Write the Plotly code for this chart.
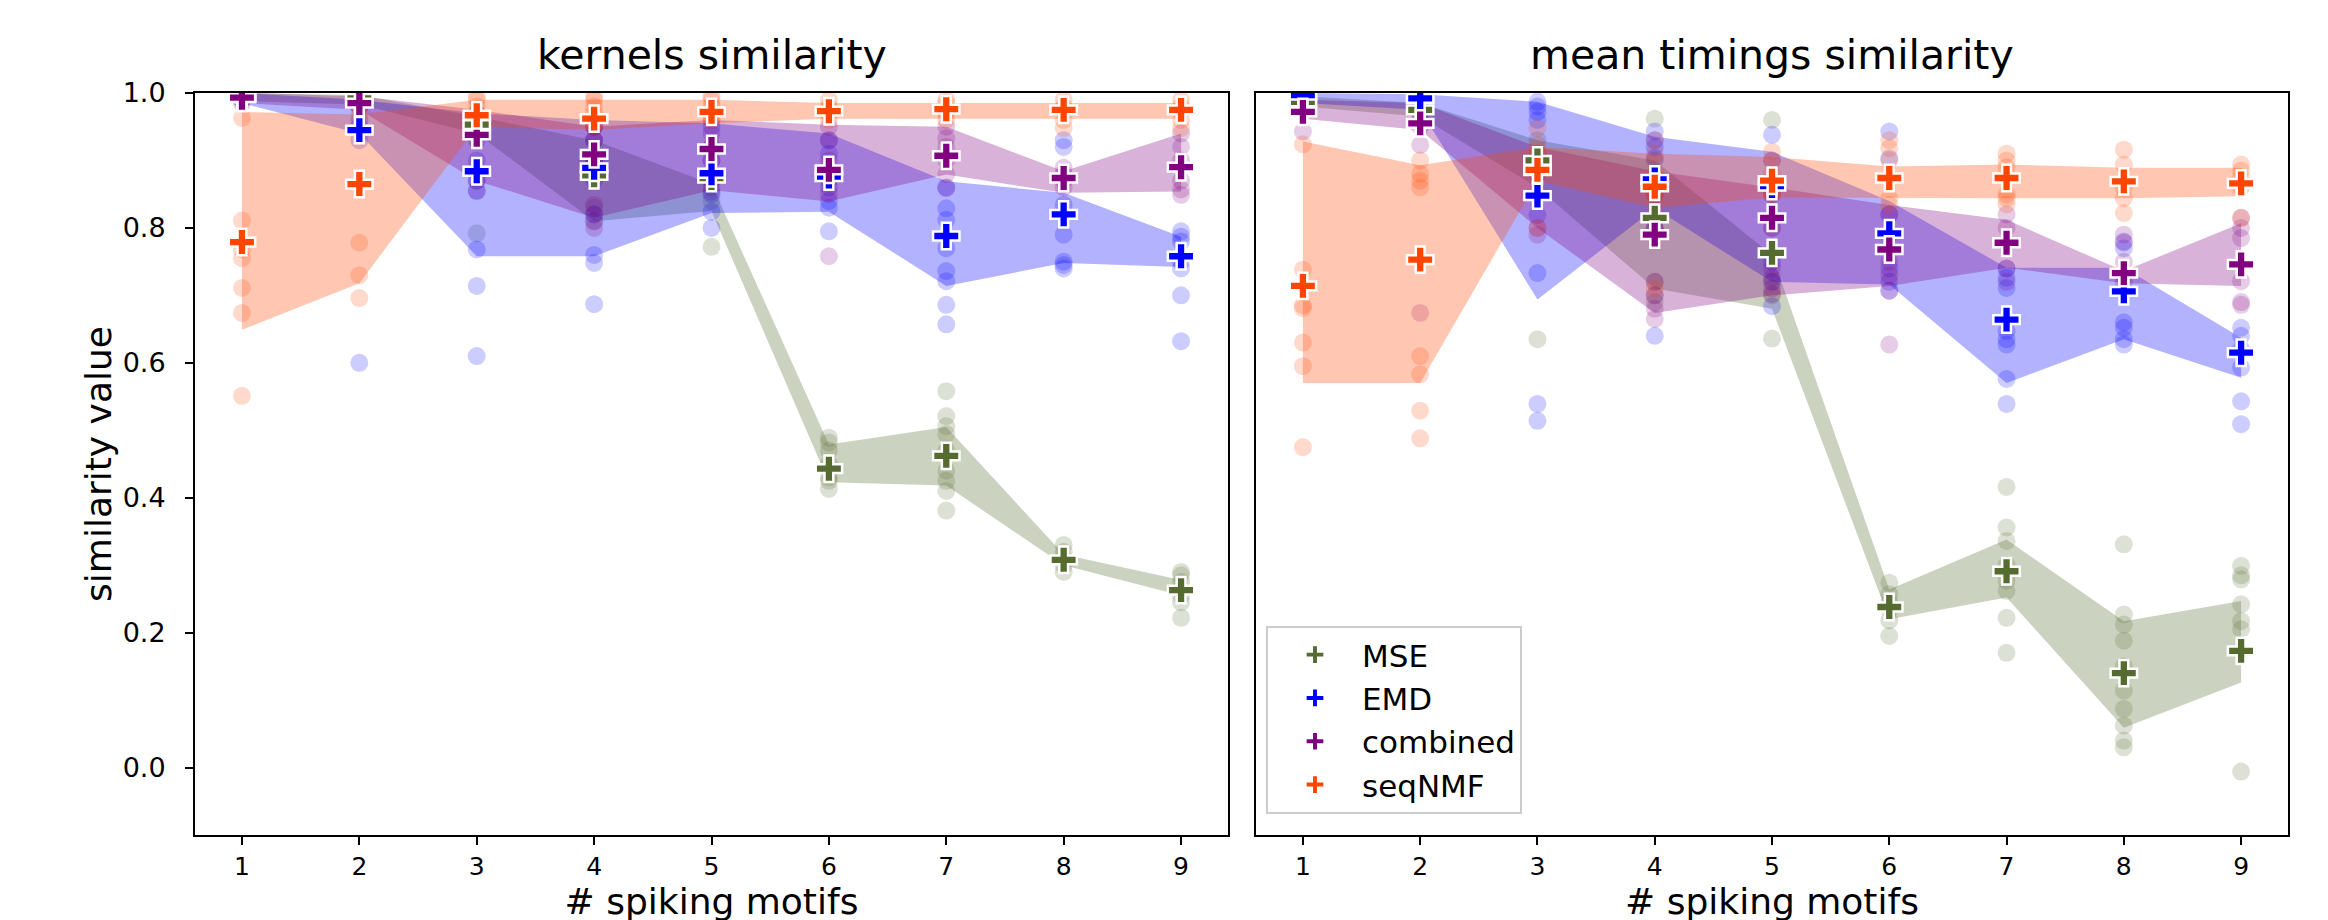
import plotly.graph_objects as go

X = [1, 2, 3, 4, 5, 6, 7, 8, 9]
METHODS = ["MSE", "EMD", "combined", "seqNMF"]
TICKS_Y = [0.0, 0.2, 0.4, 0.6, 0.8, 1.0]

# ---------------- kernels similarity ----------------
K_MSE_MEAN = [0.995, 0.992, 0.953, 0.878, 0.874, 0.443, 0.462, 0.308, 0.263]
K_MSE_LO = [0.988, 0.983, 0.940, 0.810, 0.825, 0.423, 0.418, 0.300, 0.255]
K_MSE_HI = [1.000, 0.997, 0.965, 0.930, 0.865, 0.479, 0.505, 0.316, 0.278]
K_MSE_PTS = [
    [1.0, 0.998, 0.995, 0.99],
    [0.998, 0.995, 0.99, 0.985],
    [0.97, 0.96, 0.955, 0.945, 0.792],
    [0.95, 0.93, 0.90, 0.88, 0.83, 0.81],
    [0.88, 0.87, 0.86, 0.84, 0.772],
    [0.489, 0.482, 0.47, 0.45, 0.43, 0.425, 0.413],
    [0.558, 0.521, 0.506, 0.494, 0.47, 0.44, 0.425, 0.41, 0.381],
    [0.33, 0.32, 0.31, 0.30, 0.29],
    [0.29, 0.285, 0.275, 0.265, 0.255, 0.245, 0.222],
]

K_EMD_MEAN = [0.993, 0.945, 0.884, 0.889, 0.881, 0.876, 0.788, 0.820, 0.758]
K_EMD_LO = [0.985, 0.940, 0.758, 0.758, 0.822, 0.824, 0.714, 0.748, 0.742]
K_EMD_HI = [1.000, 0.990, 0.970, 0.960, 0.955, 0.940, 0.869, 0.852, 0.787]
K_EMD_PTS = [
    [1.0, 0.995, 0.99],
    [0.99, 0.98, 0.96, 0.95, 0.93, 0.600],
    [0.97, 0.96, 0.90, 0.87, 0.855, 0.768, 0.714, 0.610],
    [0.95, 0.93, 0.90, 0.87, 0.82, 0.760, 0.748, 0.687],
    [0.95, 0.92, 0.90, 0.87, 0.85, 0.824, 0.80],
    [0.93, 0.91, 0.88, 0.86, 0.84, 0.83, 0.795],
    [0.86, 0.829, 0.812, 0.77, 0.736, 0.721, 0.686, 0.657],
    [0.93, 0.92, 0.834, 0.79, 0.75, 0.745, 0.74],
    [0.795, 0.787, 0.78, 0.75, 0.74, 0.700, 0.632],
]

K_CMB_MEAN = [0.993, 0.985, 0.938, 0.909, 0.917, 0.886, 0.907, 0.874, 0.890]
K_CMB_LO = [0.985, 0.975, 0.870, 0.815, 0.856, 0.839, 0.879, 0.852, 0.854]
K_CMB_HI = [1.000, 0.995, 0.975, 0.950, 0.960, 0.953, 0.950, 0.884, 0.940]
K_CMB_PTS = [
    [1.0, 0.995, 0.985],
    [0.995, 0.99, 0.98],
    [0.96, 0.95, 0.94, 0.93, 0.87, 0.855],
    [0.95, 0.93, 0.90, 0.834, 0.82, 0.81, 0.80],
    [0.96, 0.94, 0.92, 0.90, 0.87, 0.854],
    [0.95, 0.93, 0.90, 0.87, 0.85, 0.758],
    [0.95, 0.933, 0.92, 0.90, 0.88, 0.859],
    [0.889, 0.88, 0.87, 0.86],
    [0.94, 0.92, 0.90, 0.87, 0.857, 0.849],
]

K_SEQ_MEAN = [0.779, 0.865, 0.967, 0.962, 0.972, 0.973, 0.976, 0.975, 0.975]
K_SEQ_LO = [0.649, 0.718, 0.950, 0.945, 0.955, 0.962, 0.962, 0.962, 0.962]
K_SEQ_HI = [0.972, 0.968, 0.990, 0.990, 0.990, 0.985, 0.985, 0.985, 0.985]
K_SEQ_PTS = [
    [0.99, 0.963, 0.811, 0.768, 0.755, 0.711, 0.674, 0.551],
    [0.99, 0.98, 0.97, 0.778, 0.730, 0.696],
    [0.995, 0.99, 0.98, 0.97, 0.96, 0.955],
    [0.995, 0.99, 0.98, 0.97, 0.96, 0.95],
    [0.995, 0.99, 0.98, 0.97, 0.96],
    [0.99, 0.98, 0.975, 0.97, 0.96],
    [0.99, 0.985, 0.975, 0.97, 0.96],
    [0.99, 0.98, 0.975, 0.96, 0.948],
    [0.99, 0.98, 0.975, 0.96, 0.948],
]

# ---------------- mean timings similarity ----------------
T_MSE_MEAN = [0.987, 0.975, 0.900, 0.815, 0.763, 0.238, 0.291, 0.140, 0.173]
T_MSE_LO = [0.980, 0.965, 0.860, 0.710, 0.680, 0.220, 0.252, 0.059, 0.126]
T_MSE_HI = [0.995, 0.985, 0.930, 0.900, 0.760, 0.264, 0.338, 0.217, 0.247]
T_MSE_PTS = [
    [0.995, 0.99, 0.985, 0.98],
    [0.985, 0.98, 0.97, 0.96],
    [0.93, 0.91, 0.90, 0.88, 0.635],
    [0.962, 0.90, 0.85, 0.80, 0.72, 0.70, 0.69],
    [0.960, 0.85, 0.80, 0.76, 0.72, 0.70, 0.636],
    [0.274, 0.257, 0.245, 0.235, 0.218, 0.195],
    [0.416, 0.356, 0.336, 0.30, 0.277, 0.262, 0.222, 0.170],
    [0.331, 0.227, 0.212, 0.188, 0.15, 0.114, 0.087, 0.062, 0.040, 0.030],
    [0.299, 0.285, 0.279, 0.242, 0.217, 0.205, -0.006],
]

T_EMD_MEAN = [0.997, 0.992, 0.848, 0.872, 0.862, 0.792, 0.664, 0.706, 0.615]
T_EMD_LO = [0.985, 0.975, 0.694, 0.829, 0.720, 0.716, 0.570, 0.635, 0.578]
T_EMD_HI = [1.000, 0.998, 0.987, 0.935, 0.913, 0.840, 0.741, 0.741, 0.637]
T_EMD_PTS = [
    [1.0, 0.995, 0.99],
    [0.995, 0.99, 0.985],
    [0.987, 0.98, 0.972, 0.96, 0.819, 0.733, 0.539, 0.514],
    [0.943, 0.93, 0.92, 0.904, 0.80, 0.640],
    [0.938, 0.90, 0.87, 0.75, 0.72, 0.684],
    [0.943, 0.903, 0.82, 0.74, 0.72, 0.707],
    [0.74, 0.726, 0.711, 0.647, 0.635, 0.627, 0.576, 0.539],
    [0.78, 0.77, 0.66, 0.652, 0.635, 0.627],
    [0.652, 0.64, 0.62, 0.593, 0.543, 0.509],
]

T_CMB_MEAN = [0.972, 0.955, 0.885, 0.790, 0.815, 0.768, 0.778, 0.733, 0.746]
T_CMB_LO = [0.962, 0.945, 0.800, 0.674, 0.700, 0.714, 0.741, 0.718, 0.714]
T_CMB_HI = [0.990, 0.985, 0.920, 0.884, 0.860, 0.834, 0.812, 0.736, 0.807]
T_CMB_PTS = [
    [0.98, 0.975, 0.943],
    [0.96, 0.95, 0.923, 0.674],
    [0.90, 0.88, 0.80, 0.79],
    [0.85, 0.80, 0.72, 0.70, 0.68, 0.665],
    [0.85, 0.80, 0.74, 0.726, 0.71, 0.702],
    [0.82, 0.79, 0.75, 0.73, 0.707, 0.627],
    [0.82, 0.80, 0.778, 0.74, 0.72],
    [0.79, 0.778, 0.75, 0.73, 0.72],
    [0.815, 0.80, 0.785, 0.721, 0.69, 0.686],
]

T_SEQ_MEAN = [0.714, 0.753, 0.886, 0.861, 0.870, 0.874, 0.874, 0.869, 0.866]
T_SEQ_LO = [0.570, 0.570, 0.870, 0.830, 0.845, 0.844, 0.844, 0.844, 0.847]
T_SEQ_HI = [0.928, 0.893, 0.920, 0.910, 0.905, 0.891, 0.894, 0.889, 0.889]
T_SEQ_PTS = [
    [0.924, 0.738, 0.685, 0.681, 0.630, 0.595, 0.475],
    [0.90, 0.88, 0.87, 0.86, 0.610, 0.583, 0.529, 0.488],
    [0.948, 0.923, 0.913, 0.80],
    [0.93, 0.91, 0.88, 0.85, 0.82, 0.71],
    [0.913, 0.90, 0.88, 0.85],
    [0.93, 0.918, 0.90, 0.844, 0.834],
    [0.91, 0.90, 0.89, 0.85, 0.844, 0.835],
    [0.916, 0.894, 0.86, 0.844, 0.822],
    [0.894, 0.885, 0.875, 0.86, 0.815],
]

# ---------------- style ----------------
RGB = {
    "MSE": (85, 107, 47),
    "EMD": (0, 0, 255),
    "combined": (128, 0, 128),
    "seqNMF": (255, 69, 0),
}
FONT = "DejaVu Sans"


def rgba(name, a):
    r, g, b = RGB[name]
    return f"rgba({r},{g},{b},{a})"


PANELS = [
    ("x", "y", {
        "MSE": (K_MSE_MEAN, K_MSE_LO, K_MSE_HI, K_MSE_PTS),
        "EMD": (K_EMD_MEAN, K_EMD_LO, K_EMD_HI, K_EMD_PTS),
        "combined": (K_CMB_MEAN, K_CMB_LO, K_CMB_HI, K_CMB_PTS),
        "seqNMF": (K_SEQ_MEAN, K_SEQ_LO, K_SEQ_HI, K_SEQ_PTS),
    }),
    ("x2", "y2", {
        "MSE": (T_MSE_MEAN, T_MSE_LO, T_MSE_HI, T_MSE_PTS),
        "EMD": (T_EMD_MEAN, T_EMD_LO, T_EMD_HI, T_EMD_PTS),
        "combined": (T_CMB_MEAN, T_CMB_LO, T_CMB_HI, T_CMB_PTS),
        "seqNMF": (T_SEQ_MEAN, T_SEQ_LO, T_SEQ_HI, T_SEQ_PTS),
    }),
]

fig = go.Figure()

for xa, ya, data in PANELS:
    for m in METHODS:
        mean, lo, hi, pts = data[m]
        xs = [X[i] for i, col in enumerate(pts) for _ in col]
        ys = [v for col in pts for v in col]
        fig.add_trace(go.Scatter(
            x=xs, y=ys, mode="markers", xaxis=xa, yaxis=ya,
            marker=dict(size=18, color=rgba(m, 0.2), line=dict(width=0)),
            showlegend=False, hoverinfo="skip"))
        fig.add_trace(go.Scatter(
            x=X, y=lo, mode="lines", xaxis=xa, yaxis=ya,
            line=dict(width=0, color=rgba(m, 0.3)),
            showlegend=False, hoverinfo="skip"))
        fig.add_trace(go.Scatter(
            x=X, y=hi, mode="lines", xaxis=xa, yaxis=ya,
            line=dict(width=0, color=rgba(m, 0.3)),
            fill="tonexty", fillcolor=rgba(m, 0.3),
            showlegend=False, hoverinfo="skip"))
    for m in METHODS:
        mean = data[m][0]
        fig.add_trace(go.Scatter(
            x=X, y=mean, mode="markers", xaxis=xa, yaxis=ya, name=m,
            marker=dict(symbol="cross", size=22, color=rgba(m, 1),
                        line=dict(color="white", width=2.5)),
            showlegend=(xa == "x2")))

W, H = 2328, 920
L, R, T, B = 187, 48, 85, 93
plot_w = W - L - R
plot_h = H - T - B
left_dom = [0, (1220 - L) / plot_w]
right_dom = [(1248 - L) / plot_w, 1]

axis_common = dict(
    showline=True, mirror=True, linecolor="black", linewidth=2,
    showgrid=False, zeroline=False,
    ticks="outside", ticklen=8, tickwidth=2, tickcolor="black",
)
xtickfont = dict(family=FONT, size=25, color="black")
ytickfont = dict(family=FONT, size=27, color="black")
xtitle = dict(text="# spiking motifs", font=dict(family=FONT, size=36), standoff=0)

fig.update_layout(
    width=W, height=H,
    margin=dict(l=L, r=R, t=T, b=B),
    paper_bgcolor="white", plot_bgcolor="white",
    font=dict(family=FONT, color="black"),
    xaxis=dict(domain=left_dom, range=[0.6, 9.4], tickvals=X,
               tickfont=xtickfont, title=xtitle, **axis_common),
    xaxis2=dict(domain=right_dom, range=[0.6, 9.4], tickvals=X, anchor="y2",
                tickfont=xtickfont, title=xtitle, **axis_common),
    yaxis=dict(range=[-0.1, 1.0], tickvals=TICKS_Y, tickformat=".1f",
               tickfont=ytickfont, ticklabelstandoff=14,
               title=dict(text="similarity value", font=dict(family=FONT, size=36), standoff=0),
               **axis_common),
    yaxis2=dict(range=[-0.1, 1.0], anchor="x2", showticklabels=False,
                showline=True, mirror=True, linecolor="black", linewidth=2,
                showgrid=False, zeroline=False, ticks=""),
    legend=dict(
        x=(1258 - L) / plot_w, y=(827 - 806) / plot_h,
        xanchor="left", yanchor="bottom",
        bgcolor="rgba(255,255,255,0.8)", bordercolor="#cccccc", borderwidth=2,
        font=dict(family=FONT, size=31, color="black"),
        itemwidth=84, traceorder="normal",
    ),
    annotations=[
        dict(text="kernels similarity", xref="paper", yref="paper",
             x=sum(left_dom) / 2, y=1 + (85 - 47) / plot_h, xanchor="center", yanchor="middle",
             showarrow=False, font=dict(family=FONT, size=41, color="black")),
        dict(text="mean timings similarity", xref="paper", yref="paper",
             x=sum(right_dom) / 2, y=1 + (85 - 47) / plot_h, xanchor="center", yanchor="middle",
             showarrow=False, font=dict(family=FONT, size=41, color="black")),
    ],
)

fig.write_html("out.html")
